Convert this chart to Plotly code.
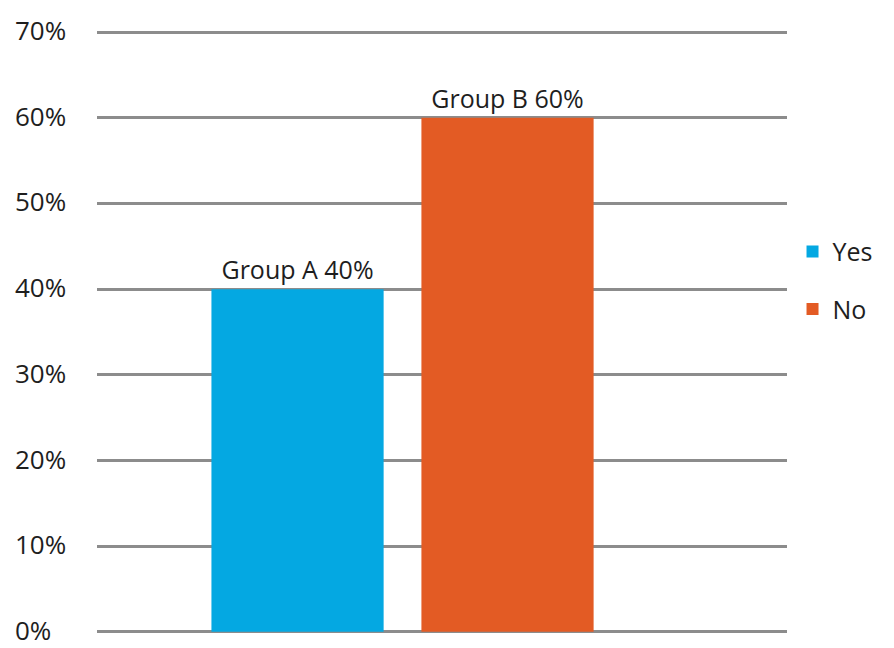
import plotly.graph_objects as go

groups = ["Group A", "Group B"]
answers = ["Yes", "No"]
shares = [40, 60]
colors = ["#04a8e2", "#e35b24"]
tick_vals = [0, 10, 20, 30, 40, 50, 60, 70]
tick_text = ["0%", "10%", "20%", "30%", "40%", "50%", "60%", "70%"]

FONT = "'Open Sans', Lato, sans-serif"
INK = "#1e1e1e"

fig = go.Figure()
for g, a, v, c in zip(groups, answers, shares, colors):
    fig.add_trace(go.Bar(
        x=[g], y=[v], name=a, legendgroup=a,
        marker=dict(color=c, line=dict(width=0)),
        width=0.82,
        text=[f"{g} {v}%"], textposition="outside",
        textfont=dict(size=25, color=INK, family=FONT),
        cliponaxis=False,
    ))

# y tick labels, left aligned like the original
for v, t in zip(tick_vals, tick_text):
    fig.add_annotation(x=0, xref="paper", xanchor="left", xshift=-84,
                       y=v, yref="y", yshift=2, text=t, showarrow=False,
                       font=dict(size=26, color=INK, family=FONT))

fig.update_layout(
    width=894, height=648,
    margin=dict(l=89, r=115, t=19, b=19),
    paper_bgcolor="white", plot_bgcolor="white",
    barmode="overlay",
    font=dict(family=FONT, color=INK),
    showlegend=True,
    legend=dict(x=1.008, y=0.585, xanchor="left", yanchor="middle",
                font=dict(size=25), tracegroupgap=22,
                traceorder="grouped", bgcolor="rgba(0,0,0,0)"),
    xaxis=dict(range=[-0.955, 2.331], showticklabels=False, showgrid=False,
               zeroline=False, showline=False, ticks=""),
    yaxis=dict(range=[-0.6, 70.6], tickvals=tick_vals, showticklabels=False,
               showgrid=True, gridcolor="#8c8c8c", gridwidth=3,
               zeroline=False, showline=False, ticks=""),
)

fig.write_html("out.html")
